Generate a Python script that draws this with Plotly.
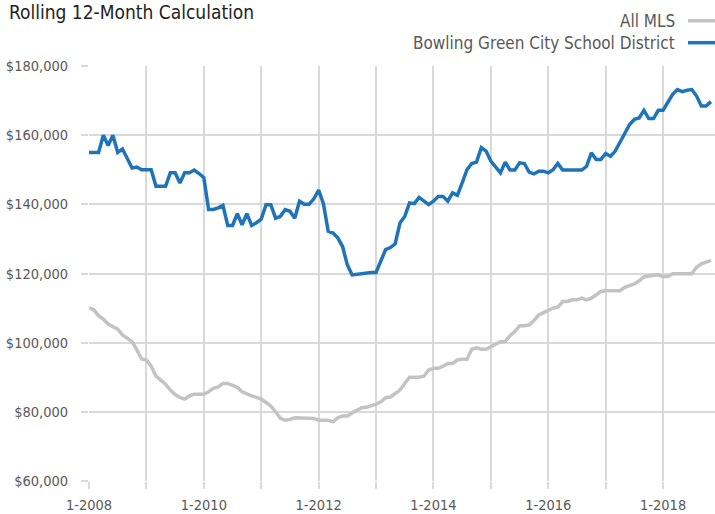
import plotly.graph_objects as go

# Month index 0 = Jan 2008 ... 130 = Nov 2018
months = list(range(131))

bowling_green = [
    155000, 155000, 155000, 160000, 157000, 160000, 155000, 156000, 153400, 150500,
    150800, 150000, 150000, 150000, 145200, 145200, 145200, 149100, 149100, 146200,
    149100, 149100, 149900, 148900, 147700, 138500, 138500, 139000, 139700, 133900,
    133900, 137300, 134100, 137300, 133900, 134700, 135700, 139900, 139900, 136000,
    136500, 138500, 138000, 136000, 140900, 140000, 140000, 141600, 144100, 140200,
    132200, 131700, 130300, 127800, 122500, 119600, 119800, 120000, 120300, 120300,
    120300, 123500, 126900, 127500, 128600, 134600, 136500, 140400, 140200, 142000,
    140900, 139900, 140900, 142300, 142300, 140900, 143300, 142600, 146200, 150000,
    151800, 152200, 156400, 155400, 152500, 150800, 149100, 152200, 149900, 149900,
    152000, 151800, 149300, 148800, 149600, 149600, 149100, 150000, 151800, 149900,
    149900, 149900, 149900, 149900, 151000, 154900, 153000, 153000, 154700, 153900,
    155400, 157800, 160700, 163100, 164600, 165000, 167200, 164800, 164800, 167200,
    167200, 169600, 171800, 173200, 172600, 173000, 173200, 171300, 168400, 168400,
    169700,
]

all_mls = [
    110100, 109500, 107800, 106800, 105400, 104600, 103900, 102200, 101300, 100300,
    97900, 95300, 95000, 93200, 90300, 89200, 88000, 86300, 85000, 84200,
    83700, 84600, 85100, 85100, 85100, 85800, 86800, 87200, 88200, 88200,
    87700, 87100, 85800, 85100, 84600, 84200, 83700, 82700, 81700, 80000,
    78100, 77600, 77800, 78300, 78300, 78300, 78100, 78100, 77600, 77600,
    77600, 77100, 78300, 78800, 78800, 79700, 80500, 81200, 81300, 81700,
    82200, 82900, 84100, 84300, 85300, 86300, 88200, 90000, 90000, 90000,
    90300, 92100, 92600, 92600, 93200, 94000, 94000, 95000, 95200, 95200,
    98100, 98500, 98100, 98100, 98800, 99500, 100300, 100400, 102000, 103200,
    104900, 104900, 105100, 106400, 108000, 108700, 109300, 110000, 110300, 111900,
    111900, 112400, 112400, 112900, 112400, 112900, 113800, 114800, 115000, 115000,
    115000, 115000, 116000, 116500, 117000, 117900, 119000, 119300, 119400, 119600,
    119100, 119100, 119900, 119900, 119900, 120100, 119900, 121800, 122800, 123300,
    123800,
]

x_tick_vals = [0, 12, 24, 36, 48, 60, 72, 84, 96, 108, 120]
x_tick_text = ["1-2008", "", "1-2010", "", "1-2012", "", "1-2014", "", "1-2016", "", "1-2018"]
y_tick_vals = [60000, 80000, 100000, 120000, 140000, 160000, 180000]
y_tick_text = ["$60,000", "$80,000", "$100,000", "$120,000", "$140,000", "$160,000", "$180,000"]

series_names = ["All MLS", "Bowling Green City School District"]
BLUE = "#1f74b9"
GRAY = "#c3c3c3"
GRID = "#d9d9d9"
TXT = "#595959"
FONT = "DejaVu Sans Condensed, sans-serif"

fig = go.Figure()
fig.add_trace(go.Scatter(x=months, y=all_mls, mode="lines", name=series_names[0],
                         line=dict(color=GRAY, width=3.5), showlegend=False))
fig.add_trace(go.Scatter(x=months, y=bowling_green, mode="lines", name=series_names[1],
                         line=dict(color=BLUE, width=3.5), showlegend=False))

W, H = 715, 514
ML, MR, MT, MB = 89, 0, 66, 33
PW = W - ML - MR
PH = H - MT - MB


def px_x(p):
    return (p - ML) / PW


def px_y(p):
    return (H - MB - p) / PH


fig.update_layout(
    width=W, height=H,
    margin=dict(l=ML, r=MR, t=MT, b=MB, pad=0, autoexpand=False),
    plot_bgcolor="white", paper_bgcolor="white",
    font=dict(family=FONT, color=TXT, size=14.5),
    xaxis=dict(range=[0, 130.85], tickvals=x_tick_vals, ticktext=x_tick_text,
               showgrid=True, gridcolor=GRID, gridwidth=2, zeroline=False,
               ticks="outside", ticklen=7, tickwidth=2, tickcolor=GRID,
               tickfont=dict(size=14.5, color=TXT), showline=False,
               automargin=False, ticklabelstandoff=4),
    yaxis=dict(range=[60000, 180000], tickvals=y_tick_vals, ticktext=y_tick_text,
               showgrid=True, gridcolor=GRID, gridwidth=2, zeroline=False,
               ticks="outside", ticklen=7, tickwidth=2, tickcolor=GRID,
               tickfont=dict(size=14.5, color=TXT), showline=False,
               automargin=False, ticklabelstandoff=10),
)

fig.add_annotation(text="Rolling 12-Month Calculation", xref="paper", yref="paper",
                   x=px_x(7), y=px_y(12), xanchor="left", yanchor="middle",
                   showarrow=False, font=dict(size=19, color="#222222", family=FONT))

legend_rows = [(series_names[0], GRAY, 20.7), (series_names[1], BLUE, 42.7)]
for name, col, yy in legend_rows:
    fig.add_annotation(text=name, xref="paper", yref="paper",
                       x=px_x(677), y=px_y(yy), xanchor="right", yanchor="middle",
                       showarrow=False, font=dict(size=17, color=TXT, family=FONT))
    fig.add_shape(type="line", xref="paper", yref="paper",
                  x0=px_x(688), x1=px_x(716), y0=px_y(yy), y1=px_y(yy),
                  line=dict(color=col, width=3.5))

fig.write_html("out.html", config={"displayModeBar": False},
               post_script="document.body.style.margin='0';")
